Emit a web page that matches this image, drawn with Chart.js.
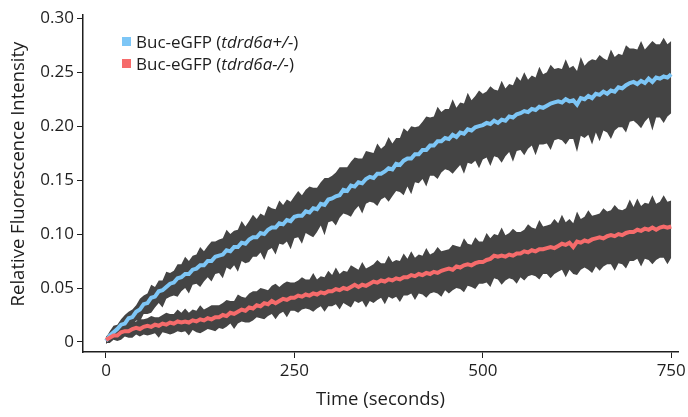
<!DOCTYPE html>
<html>
<head>
<meta charset="utf-8">
<script src="https://cdn.jsdelivr.net/npm/chart.js@4.4.1/dist/chart.umd.min.js"></script>
<style>
html, body { margin: 0; padding: 0; background: #fff; }
</style>
</head>
<body>
<canvas id="fluoChart" width="688" height="417"></canvas>
<script>
// sampling every 5 s, 0..750
var timeStep = 5;

var hetMean = [
  0.001, 0.006, 0.009, 0.012, 0.016, 0.017, 0.022, 0.023, 0.028, 0.030,
  0.035, 0.036, 0.041, 0.042, 0.047, 0.048, 0.051, 0.054, 0.055, 0.059,
  0.060, 0.063, 0.063, 0.067, 0.068, 0.071, 0.071, 0.075, 0.075, 0.079,
  0.080, 0.081, 0.085, 0.084, 0.088, 0.088, 0.092, 0.091, 0.095, 0.097,
  0.097, 0.101, 0.100, 0.104, 0.106, 0.106, 0.110, 0.109, 0.113, 0.112,
  0.116, 0.117, 0.117, 0.121, 0.120, 0.124, 0.123, 0.128, 0.127, 0.132,
  0.133, 0.135, 0.136, 0.141, 0.140, 0.145, 0.144, 0.148, 0.147, 0.151,
  0.153, 0.152, 0.156, 0.156, 0.158, 0.161, 0.160, 0.165, 0.164, 0.168,
  0.170, 0.170, 0.174, 0.174, 0.178, 0.178, 0.182, 0.182, 0.186, 0.186,
  0.189, 0.188, 0.192, 0.190, 0.194, 0.193, 0.197, 0.196, 0.199, 0.200,
  0.201, 0.203, 0.202, 0.205, 0.203, 0.206, 0.205, 0.209, 0.208, 0.211,
  0.212, 0.214, 0.213, 0.216, 0.215, 0.218, 0.217, 0.219, 0.221, 0.222,
  0.223, 0.222, 0.225, 0.223, 0.224, 0.220, 0.226, 0.225, 0.228, 0.226,
  0.230, 0.229, 0.232, 0.230, 0.233, 0.232, 0.236, 0.235, 0.238, 0.240,
  0.241, 0.239, 0.242, 0.240, 0.244, 0.241, 0.245, 0.244, 0.246, 0.245,
  0.248
];
// distance from the mean to the upper / lower edge of the grey band
var hetUp = [
  0.003, 0.004, 0.006, 0.004, 0.005, 0.008, 0.006, 0.007, 0.006, 0.010,
  0.008, 0.009, 0.012, 0.009, 0.010, 0.009, 0.014, 0.010, 0.011, 0.013,
  0.012, 0.016, 0.012, 0.013, 0.013, 0.017, 0.013, 0.014, 0.018, 0.014,
  0.015, 0.015, 0.019, 0.016, 0.015, 0.016, 0.020, 0.016, 0.017, 0.021,
  0.017, 0.018, 0.017, 0.022, 0.018, 0.017, 0.021, 0.018, 0.019, 0.018,
  0.019, 0.023, 0.019, 0.020, 0.024, 0.019, 0.020, 0.020, 0.025, 0.020,
  0.021, 0.022, 0.026, 0.021, 0.022, 0.022, 0.027, 0.022, 0.023, 0.026,
  0.023, 0.023, 0.028, 0.023, 0.024, 0.029, 0.024, 0.024, 0.025, 0.030,
  0.025, 0.030, 0.025, 0.026, 0.026, 0.031, 0.026, 0.027, 0.032, 0.027,
  0.027, 0.028, 0.033, 0.027, 0.028, 0.028, 0.034, 0.028, 0.029, 0.033,
  0.029, 0.029, 0.035, 0.029, 0.030, 0.036, 0.030, 0.030, 0.030, 0.035,
  0.030, 0.036, 0.030, 0.031, 0.030, 0.037, 0.031, 0.031, 0.036, 0.031,
  0.031, 0.031, 0.037, 0.031, 0.032, 0.031, 0.038, 0.031, 0.032, 0.036,
  0.031, 0.037, 0.031, 0.031, 0.038, 0.032, 0.031, 0.031, 0.037, 0.032,
  0.031, 0.032, 0.037, 0.031, 0.031, 0.038, 0.031, 0.032, 0.036, 0.031,
  0.031
];
var hetDown = [
  0.003, 0.005, 0.004, 0.007, 0.005, 0.006, 0.009, 0.007, 0.008, 0.011,
  0.009, 0.010, 0.014, 0.010, 0.011, 0.016, 0.011, 0.012, 0.012, 0.017,
  0.013, 0.013, 0.018, 0.014, 0.014, 0.020, 0.015, 0.015, 0.019, 0.016,
  0.016, 0.022, 0.016, 0.017, 0.017, 0.023, 0.017, 0.018, 0.021, 0.018,
  0.018, 0.018, 0.024, 0.019, 0.019, 0.025, 0.019, 0.019, 0.020, 0.026,
  0.020, 0.020, 0.026, 0.020, 0.021, 0.027, 0.021, 0.020, 0.028, 0.021,
  0.021, 0.027, 0.021, 0.022, 0.022, 0.029, 0.022, 0.022, 0.028, 0.023,
  0.023, 0.023, 0.030, 0.024, 0.024, 0.031, 0.025, 0.025, 0.025, 0.032,
  0.026, 0.033, 0.026, 0.027, 0.027, 0.034, 0.028, 0.028, 0.035, 0.029,
  0.029, 0.029, 0.036, 0.030, 0.030, 0.037, 0.031, 0.031, 0.031, 0.039,
  0.032, 0.032, 0.039, 0.033, 0.032, 0.040, 0.033, 0.033, 0.041, 0.034,
  0.034, 0.041, 0.034, 0.034, 0.042, 0.035, 0.034, 0.035, 0.043, 0.035,
  0.035, 0.035, 0.042, 0.035, 0.036, 0.044, 0.035, 0.036, 0.036, 0.043,
  0.036, 0.043, 0.036, 0.036, 0.045, 0.036, 0.037, 0.036, 0.044, 0.036,
  0.036, 0.037, 0.044, 0.036, 0.036, 0.045, 0.037, 0.036, 0.043, 0.036,
  0.036
];

var homMean = [
  0.002, 0.004, 0.006, 0.006, 0.009, 0.010, 0.010, 0.012, 0.013, 0.012,
  0.014, 0.015, 0.014, 0.016, 0.015, 0.017, 0.016, 0.018, 0.017, 0.019,
  0.018, 0.019, 0.018, 0.020, 0.019, 0.021, 0.020, 0.022, 0.021, 0.023,
  0.023, 0.025, 0.024, 0.027, 0.026, 0.028, 0.030, 0.029, 0.032, 0.031,
  0.034, 0.033, 0.036, 0.035, 0.038, 0.036, 0.038, 0.040, 0.039, 0.041,
  0.041, 0.043, 0.042, 0.044, 0.043, 0.045, 0.044, 0.046, 0.045, 0.047,
  0.047, 0.049, 0.048, 0.050, 0.049, 0.051, 0.053, 0.051, 0.053, 0.052,
  0.054, 0.056, 0.055, 0.057, 0.056, 0.058, 0.057, 0.059, 0.058, 0.060,
  0.060, 0.062, 0.061, 0.063, 0.062, 0.064, 0.063, 0.065, 0.064, 0.066,
  0.067, 0.068, 0.067, 0.070, 0.069, 0.071, 0.072, 0.071, 0.073, 0.074,
  0.074, 0.076, 0.077, 0.080, 0.079, 0.080, 0.079, 0.081, 0.080, 0.082,
  0.082, 0.084, 0.083, 0.085, 0.084, 0.086, 0.086, 0.087, 0.088, 0.087,
  0.089, 0.091, 0.090, 0.092, 0.088, 0.093, 0.092, 0.094, 0.093, 0.095,
  0.096, 0.097, 0.096, 0.098, 0.099, 0.098, 0.100, 0.099, 0.101, 0.102,
  0.102, 0.104, 0.103, 0.105, 0.104, 0.106, 0.104, 0.106, 0.107, 0.106,
  0.107
];
var homUp = [
  0.003, 0.004, 0.006, 0.004, 0.005, 0.007, 0.005, 0.006, 0.006, 0.009,
  0.007, 0.007, 0.010, 0.007, 0.008, 0.008, 0.011, 0.008, 0.009, 0.011,
  0.009, 0.012, 0.009, 0.010, 0.010, 0.013, 0.010, 0.010, 0.013, 0.011,
  0.011, 0.011, 0.015, 0.011, 0.012, 0.016, 0.012, 0.012, 0.013, 0.016,
  0.013, 0.017, 0.013, 0.013, 0.014, 0.018, 0.013, 0.014, 0.017, 0.014,
  0.014, 0.014, 0.018, 0.014, 0.015, 0.019, 0.014, 0.015, 0.015, 0.019,
  0.015, 0.020, 0.015, 0.016, 0.016, 0.020, 0.016, 0.016, 0.021, 0.016,
  0.016, 0.016, 0.021, 0.016, 0.017, 0.022, 0.017, 0.017, 0.017, 0.022,
  0.017, 0.022, 0.017, 0.018, 0.018, 0.023, 0.018, 0.018, 0.024, 0.018,
  0.018, 0.018, 0.023, 0.019, 0.019, 0.025, 0.019, 0.019, 0.024, 0.019,
  0.019, 0.025, 0.019, 0.020, 0.020, 0.026, 0.020, 0.020, 0.025, 0.020,
  0.020, 0.020, 0.026, 0.021, 0.021, 0.027, 0.021, 0.021, 0.021, 0.027,
  0.021, 0.027, 0.021, 0.022, 0.022, 0.028, 0.022, 0.022, 0.029, 0.022,
  0.022, 0.022, 0.028, 0.023, 0.023, 0.029, 0.023, 0.023, 0.023, 0.030,
  0.023, 0.029, 0.023, 0.024, 0.024, 0.030, 0.024, 0.024, 0.029, 0.024,
  0.024
];
var homDown = [
  0.003, 0.005, 0.004, 0.005, 0.007, 0.005, 0.006, 0.008, 0.006, 0.007,
  0.007, 0.009, 0.007, 0.008, 0.011, 0.008, 0.008, 0.011, 0.009, 0.009,
  0.009, 0.009, 0.012, 0.009, 0.010, 0.013, 0.010, 0.010, 0.010, 0.013,
  0.010, 0.013, 0.010, 0.010, 0.014, 0.011, 0.011, 0.011, 0.014, 0.011,
  0.011, 0.011, 0.015, 0.011, 0.012, 0.015, 0.012, 0.012, 0.016, 0.012,
  0.012, 0.016, 0.012, 0.013, 0.013, 0.017, 0.013, 0.013, 0.017, 0.014,
  0.014, 0.014, 0.018, 0.014, 0.015, 0.019, 0.015, 0.015, 0.015, 0.020,
  0.016, 0.020, 0.016, 0.016, 0.021, 0.016, 0.017, 0.017, 0.021, 0.017,
  0.017, 0.017, 0.022, 0.018, 0.018, 0.023, 0.018, 0.019, 0.019, 0.024,
  0.019, 0.023, 0.019, 0.020, 0.020, 0.025, 0.020, 0.020, 0.024, 0.020,
  0.020, 0.021, 0.026, 0.021, 0.021, 0.027, 0.022, 0.022, 0.022, 0.028,
  0.022, 0.027, 0.022, 0.023, 0.023, 0.028, 0.023, 0.024, 0.029, 0.024,
  0.024, 0.024, 0.030, 0.025, 0.025, 0.031, 0.025, 0.025, 0.026, 0.031,
  0.026, 0.031, 0.026, 0.026, 0.027, 0.032, 0.027, 0.027, 0.033, 0.027,
  0.027, 0.027, 0.033, 0.028, 0.028, 0.034, 0.028, 0.028, 0.029, 0.034,
  0.029
];

var xTicks = [0, 250, 500, 750];
var yTicks = [0, 0.05, 0.10, 0.15, 0.20, 0.25, 0.30];
var legendLabels = [
  ['Buc-eGFP (', 'tdrd6a+/-', ')'],
  ['Buc-eGFP (', 'tdrd6a-/-', ')']
];

var hetColor = '#7dc6f6';
var homColor = '#f66b6b';
var bandColor = '#444444';
var textColor = '#1e1e1e';
var fontFamily = "'Open Sans', sans-serif";

function pts(arr) {
  return arr.map(function (v, i) { return { x: i * timeStep, y: v }; });
}
function edge(mean, dist, sign) {
  return mean.map(function (v, i) { return { x: i * timeStep, y: v + sign * dist[i] }; });
}

var legendPlugin = {
  id: 'customLegend',
  afterDraw: function (chart) {
    var c = chart.ctx;
    var colors = [hetColor, homColor];
    c.save();
    c.textBaseline = 'alphabetic';
    legendLabels.forEach(function (parts, i) {
      var y = 37 + i * 22;
      c.fillStyle = colors[i];
      c.fillRect(122, y, 9, 9);
      c.fillStyle = textColor;
      var x = 136;
      parts.forEach(function (p, j) {
        c.font = (j === 1 ? 'italic ' : '') + '17px ' + fontFamily;
        c.fillText(p, x, y + 11);
        x += c.measureText(p).width;
      });
    });
    // y axis title
    c.translate(19, 174);
    c.rotate(-Math.PI / 2);
    c.textAlign = 'center';
    c.textBaseline = 'middle';
    c.font = '18.5px ' + fontFamily;
    c.fillText('Relative Fluorescence Intensity', 0, 0);
    c.restore();
  }
};

var ctx = document.getElementById('fluoChart').getContext('2d');
var myChart = new Chart(ctx, {
  type: 'line',
  data: {
    datasets: [
      { data: pts(homMean), borderColor: homColor, borderWidth: 4 },
      { data: pts(hetMean), borderColor: hetColor, borderWidth: 4 },
      { data: edge(homMean, homUp, 1), borderWidth: 0, borderColor: 'rgba(0,0,0,0)', fill: '+1', backgroundColor: bandColor },
      { data: edge(homMean, homDown, -1), borderWidth: 0, borderColor: 'rgba(0,0,0,0)', fill: false },
      { data: edge(hetMean, hetUp, 1), borderWidth: 0, borderColor: 'rgba(0,0,0,0)', fill: '+1', backgroundColor: bandColor },
      { data: edge(hetMean, hetDown, -1), borderWidth: 0, borderColor: 'rgba(0,0,0,0)', fill: false }
    ]
  },
  options: {
    responsive: false,
    animation: false,
    elements: { point: { radius: 0 }, line: { tension: 0 } },
    layout: { padding: { top: 15, right: 10, left: 0, bottom: 0 } },
    plugins: { legend: { display: false }, tooltip: { enabled: false } },
    scales: {
      x: {
        type: 'linear',
        min: -30.5,
        max: 759,
        afterBuildTicks: function (s) { s.ticks = xTicks.map(function (v) { return { value: v }; }); },
        afterFit: function (s) { s.height = 65; s.paddingLeft = 0; s.paddingRight = 0; },
        grid: { drawOnChartArea: false, drawTicks: true, tickLength: 6, color: textColor, lineWidth: 1 },
        border: { color: textColor, width: 1.5 },
        ticks: { color: textColor, padding: 3, maxRotation: 0, font: { family: fontFamily, size: 17 } },
        title: { display: true, text: 'Time (seconds)', color: textColor, padding: { top: 0, bottom: 6 }, font: { family: fontFamily, size: 18.5 } }
      },
      y: {
        min: -0.0093,
        max: 0.303,
        afterBuildTicks: function (s) { s.ticks = yTicks.map(function (v) { return { value: v }; }); },
        afterFit: function (s) { s.width = 83; s.paddingTop = 0; s.paddingBottom = 0; },
        grid: { drawOnChartArea: false, drawTicks: true, tickLength: 6, color: textColor, lineWidth: 1 },
        border: { color: textColor, width: 1.5 },
        ticks: {
          color: textColor, padding: 3, font: { family: fontFamily, size: 17 },
          callback: function (v) { return v === 0 ? '0' : v.toFixed(2); }
        }
      }
    }
  },
  plugins: [legendPlugin]
});
</script>
</body>
</html>
